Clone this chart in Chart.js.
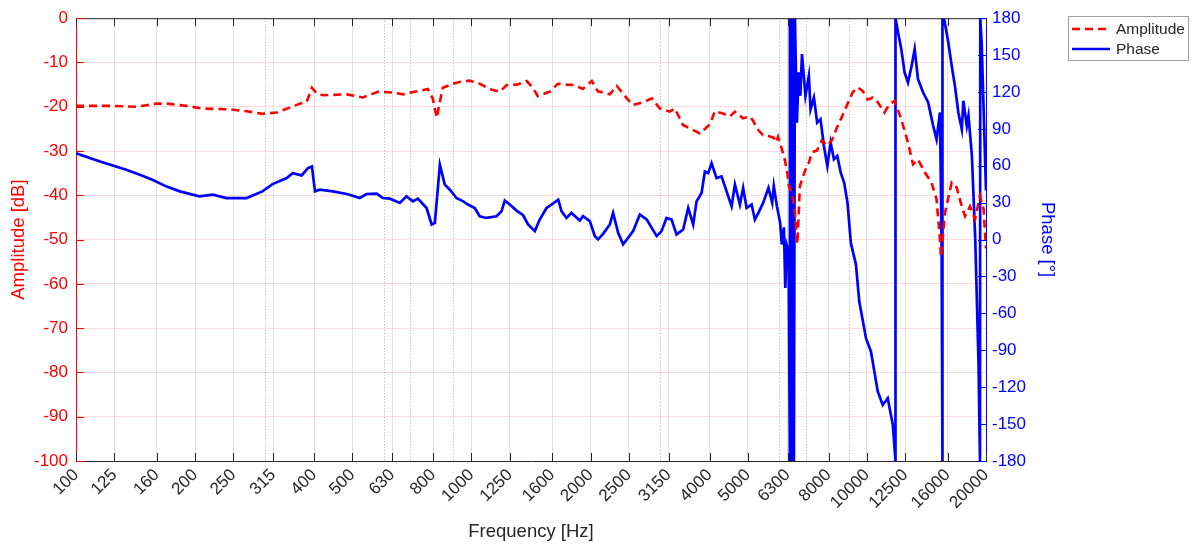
<!DOCTYPE html>
<html lang="en">
<head>
<meta charset="UTF-8">
<title>Amplitude and Phase</title>
<script src="https://cdn.jsdelivr.net/npm/chart.js@4.4.0/dist/chart.umd.min.js"></script>
<style>
  html, body { margin: 0; padding: 0; background: #fff; }
  .wrap { position: relative; width: 1194px; height: 549px; }
</style>
</head>
<body>
<div class="wrap"><canvas id="chart"></canvas></div>
<script>
// x axis tick labels (1/3 octave) and the dotted minor grid lines between them
const freqTicks = [100, 125, 160, 200, 250, 315, 400, 500, 630, 800, 1000, 1250, 1600, 2000,
  2500, 3150, 4000, 5000, 6300, 8000, 10000, 12500, 16000, 20000];
const minorGrid = [300, 600, 700, 900, 3000, 6000, 7000, 9000];

// Amplitude curve [dB]
const ampFreq = [100, 124, 142, 160, 170, 190, 209, 245, 270, 296, 322, 347, 368, 383, 395, 406, 421,
  484, 531, 580, 633, 671, 728, 776, 798, 817, 832, 846, 897, 934, 990, 1049, 1112, 1179, 1228,
  1302, 1380, 1429, 1471, 1578, 1653, 1742, 1825, 1912, 2015, 2087, 2238, 2331, 2471, 2559, 2712,
  2859, 2994, 3174, 3267, 3424, 3567, 3780, 4007, 4126, 4322, 4502, 4636, 4857, 5058, 5150, 5269,
  5457, 5684, 5817, 5893, 5960, 6023, 6166, 6274, 6348, 6461, 6575, 6670, 6767, 6989, 7134, 7259,
  7472, 7694, 7922, 8155, 8396, 8670, 8928, 9196, 9467, 9747, 10041, 10337, 10649, 11072, 11400,
  11745, 12212, 12698, 13074, 13460, 14001, 14560, 14998, 15296, 15387, 15750, 16378, 16861,
  17370, 17696, 18224, 18760, 19312, 19721, 20000];
const ampDb = [-19.8, -19.8, -20.0, -19.3, -19.3, -19.8, -20.4, -20.6, -21.0, -21.6, -21.3, -20.2,
  -19.3, -18.9, -15.7, -17.0, -17.4, -17.2, -17.9, -16.6, -16.8, -17.2, -16.5, -16.0, -18.1, -22.5,
  -18.9, -15.7, -14.8, -14.4, -14.1, -14.8, -16.0, -16.6, -15.1, -15.0, -14.2, -15.7, -17.6, -16.6,
  -14.8, -15.0, -15.1, -16.0, -14.2, -16.5, -17.2, -15.3, -18.1, -19.6, -19.0, -18.1, -20.4, -21.1,
  -20.4, -24.1, -24.9, -26.0, -24.0, -21.0, -21.5, -22.2, -21.1, -22.6, -22.2, -23.1, -24.9, -26.4,
  -26.7, -27.0, -28.0, -26.8, -28.1, -31.1, -34.2, -37.9, -39.3, -44.0, -51.0, -37.9, -34.2, -32.6,
  -30.3, -29.9, -27.6, -28.8, -27.6, -24.7, -22.0, -19.4, -16.8, -15.6, -16.4, -18.4, -17.9, -19.0,
  -21.3, -19.4, -18.7, -22.8, -28.1, -33.0, -31.9, -34.8, -37.1, -40.9, -50.0, -54.0, -44.0, -37.1,
  -38.2, -42.5, -44.7, -42.5, -45.4, -40.2, -43.1, -52.0];

// Phase curve [deg], wrapped to +-180
const phaseFreq = [100, 115, 134, 145, 156, 169, 183, 205, 222, 240, 270, 296, 314, 341, 353, 372,
  386, 395, 402, 413, 446, 484, 522, 543, 576, 597, 622, 659, 685, 711, 732, 770, 793, 808, 832,
  856, 882, 916, 953, 980, 1019, 1049, 1091, 1157, 1191, 1214, 1250, 1300, 1351, 1390, 1446, 1488,
  1548, 1593, 1657, 1690, 1739, 1790, 1879, 1915, 1992, 2051, 2090, 2152, 2238, 2281, 2349, 2418,
  2490, 2563, 2665, 2774, 2856, 2940, 3024, 3113, 3206, 3300, 3430, 3532, 3636, 3708, 3818, 3892,
  3968, 4047, 4166, 4289, 4416, 4547, 4636, 4773, 4864, 4962, 5109, 5208, 5316, 5466, 5635, 5760,
  5814, 5921, 6033, 6092, 6166, 6216, 6274, 6337, 6385, 6385, 6441, 6479, 6536, 6575, 6651, 6720,
  6785, 6851, 6989, 7130, 7201, 7343, 7484, 7630, 7784, 7940, 8094, 8250, 8415, 8585, 8758, 8928,
  9106, 9380, 9561, 9944, 10236, 10649, 10963, 11287, 11627, 11808, 11808, 11980, 12212, 12449,
  12698, 12947, 13203, 13460, 13868, 14284, 14705, 14998, 15296, 15444, 15521, 15521, 15703, 16056,
  16378, 16691, 17025, 17370, 17533, 17884, 18063, 18424, 18788, 18930, 19152, 19312, 19346, 19500,
  19710, 20000];
const phaseDeg = [70.2, 63.5, 56.8, 52.7, 48.7, 43.3, 39.2, 35.2, 36.6, 33.8, 33.8, 39.2, 45.1, 50.0,
  54.0, 52.2, 58.1, 59.5, 39.2, 40.6, 39.2, 37.1, 33.8, 37.1, 37.4, 33.8, 33.3, 29.8, 35.2, 31.1,
  33.3, 25.7, 12.3, 13.6, 60.8, 44.7, 40.6, 33.8, 31.1, 28.5, 25.7, 19.0, 17.6, 19.0, 23.0, 31.7,
  28.5, 23.6, 19.8, 12.3, 6.9, 16.3, 25.7, 28.5, 32.5, 23.0, 17.6, 21.7, 15.5, 19.0, 15.0, 2.8, 0.2,
  4.7, 12.3, 21.7, 5.5, -3.9, 1.5, 6.9, 20.4, 16.3, 9.5, 2.8, 6.9, 17.6, 16.3, 4.2, 8.2, 25.7, 12.3,
  31.1, 37.9, 55.4, 54.0, 62.1, 50.0, 51.4, 39.2, 27.1, 44.7, 28.5, 41.9, 25.7, 28.5, 16.3, 21.8,
  30.0, 42.1, 30.0, 43.5, 27.2, 13.6, -4.0, 10.0, -39.3, -5.0, -10.0, -180, 180, -180, 180, -180,
  180, 95.1, 136.0, 116.9, 150.9, 116.9, 133.2, 106.0, 115.5, 95.1, 97.9, 76.1, 59.8, 78.9, 65.3,
  68.0, 54.4, 46.2, 30.0, -2.8, -20.3, -50.2, -80.1, -91.0, -123.4, -134.5, -129.0, -150.8, -180,
  180, 168.7, 154.9, 135.9, 127.7, 140.0, 154.9, 130.5, 119.6, 111.5, 92.5, 81.5, 103.3, -2.8, -180,
  180, 178, 160.4, 141.3, 125.0, 103.3, 89.7, 112.9, 92.5, 100.7, 68.0, 0.0, -39.3, -101.5, -180,
  180, 160, 110, 40];

const RED = '#ff0000';
const BLUE = '#0000ff';
const DARK = '#262626';

Chart.defaults.font.family = '"Liberation Sans", Arial, Helvetica, sans-serif';

function pairs(xs, ys) {
  return xs.map((f, i) => ({ x: f, y: ys[i] }));
}

// minor dotted grid, inward tick marks, top border and the boxed legend
const framePlugin = {
  id: 'frame',
  beforeDatasetsDraw(chart) {
    const { ctx, chartArea: a } = chart;
    const x = chart.scales.x;
    ctx.save();
    ctx.strokeStyle = 'rgba(0,0,0,0.3)';
    ctx.lineWidth = 1;
    ctx.setLineDash([1, 2]);
    minorGrid.forEach(v => {
      const px = Math.round(x.getPixelForValue(v)) + 0.5;
      ctx.beginPath();
      ctx.moveTo(px, a.top);
      ctx.lineTo(px, a.bottom);
      ctx.stroke();
    });
    ctx.restore();
  },
  afterDatasetsDraw(chart) {
    const { ctx, chartArea: a } = chart;
    const { x, y, y2 } = chart.scales;
    const len = 8;
    ctx.save();
    ctx.lineWidth = 1;
    ctx.strokeStyle = DARK;
    ctx.beginPath();
    ctx.moveTo(a.left, a.top + 0.5);
    ctx.lineTo(a.right, a.top + 0.5);
    freqTicks.forEach(v => {
      const px = Math.round(x.getPixelForValue(v)) + 0.5;
      ctx.moveTo(px, a.bottom);
      ctx.lineTo(px, a.bottom - len);
      ctx.moveTo(px, a.top);
      ctx.lineTo(px, a.top + len);
    });
    ctx.stroke();
    ctx.strokeStyle = RED;
    ctx.beginPath();
    y.ticks.forEach(t => {
      const py = Math.round(y.getPixelForValue(t.value)) + 0.5;
      ctx.moveTo(a.left, py);
      ctx.lineTo(a.left + len, py);
    });
    ctx.stroke();
    ctx.strokeStyle = BLUE;
    ctx.beginPath();
    y2.ticks.forEach(t => {
      const py = Math.round(y2.getPixelForValue(t.value)) + 0.5;
      ctx.moveTo(a.right, py);
      ctx.lineTo(a.right - len, py);
    });
    ctx.stroke();
    ctx.restore();
  },
  afterDraw(chart) {
    const ctx = chart.ctx;
    const bx = 1068, by = 16, bw = 120, bh = 44;
    ctx.save();
    ctx.fillStyle = '#fff';
    ctx.fillRect(bx, by, bw, bh);
    ctx.strokeStyle = '#a0a0a0';
    ctx.lineWidth = 1;
    ctx.strokeRect(bx + 0.5, by + 0.5, bw, bh);
    const ds = chart.data.datasets;
    ctx.font = '15.5px "Liberation Sans", Arial, sans-serif';
    ctx.textBaseline = 'middle';
    ds.forEach((d, i) => {
      const ly = by + 13 + i * 20;
      ctx.strokeStyle = d.borderColor;
      ctx.lineWidth = d.borderWidth;
      ctx.setLineDash(d.borderDash || []);
      ctx.beginPath();
      ctx.moveTo(bx + 4, ly);
      ctx.lineTo(bx + 42, ly);
      ctx.stroke();
      ctx.setLineDash([]);
      ctx.fillStyle = DARK;
      ctx.fillText(d.label, bx + 48, ly + 1);
    });
    ctx.restore();
  }
};

new Chart(document.getElementById('chart'), {
  type: 'line',
  data: {
    datasets: [
      {
        label: 'Amplitude',
        data: pairs(ampFreq, ampDb),
        yAxisID: 'y',
        borderColor: RED,
        borderWidth: 2.6,
        borderDash: [8, 5],
        pointRadius: 0,
        tension: 0,
        fill: false
      },
      {
        label: 'Phase',
        data: pairs(phaseFreq, phaseDeg),
        yAxisID: 'y2',
        borderColor: BLUE,
        borderWidth: 2.7,
        pointRadius: 0,
        tension: 0,
        fill: false
      }
    ]
  },
  options: {
    responsive: true,
    maintainAspectRatio: false,
    animation: false,
    devicePixelRatio: 1,
    layout: { padding: { left: 0, right: 136, top: 16, bottom: 0 } },
    plugins: {
      legend: { display: false },
      tooltip: { enabled: false }
    },
    scales: {
      x: {
        type: 'logarithmic',
        min: 100,
        max: 20000,
        afterBuildTicks: s => { s.ticks = freqTicks.map(v => ({ value: v })); },
        afterFit: s => { s.height = 88; },
        ticks: {
          autoSkip: false,
          minRotation: 45,
          maxRotation: 45,
          color: DARK,
          font: { size: 17 },
          padding: 4,
          callback: v => String(v)
        },
        grid: { color: 'rgba(0,0,0,0.11)', drawTicks: false },
        border: { color: DARK, width: 1 },
        title: {
          display: true,
          text: 'Frequency [Hz]',
          color: DARK,
          font: { size: 18.5 },
          padding: { top: 0, bottom: 6 }
        }
      },
      y: {
        position: 'left',
        min: -100,
        max: 0,
        afterFit: s => { s.width = 76; },
        ticks: { stepSize: 10, color: RED, font: { size: 17 }, padding: 8 },
        grid: { color: 'rgba(255,0,0,0.14)', drawTicks: false },
        border: { color: RED, width: 1 },
        title: {
          display: true,
          text: 'Amplitude [dB]',
          color: RED,
          font: { size: 18.5 },
          padding: { top: 8, bottom: 0 }
        }
      },
      y2: {
        position: 'right',
        min: -180,
        max: 180,
        afterFit: s => { s.width = 72; },
        ticks: { stepSize: 30, color: BLUE, font: { size: 17 }, padding: 6 },
        grid: { drawOnChartArea: false, drawTicks: false },
        border: { color: BLUE, width: 1 },
        title: {
          display: true,
          text: 'Phase [°]',
          color: BLUE,
          font: { size: 18.5 },
          padding: { top: 0, bottom: 0 }
        }
      }
    }
  },
  plugins: [framePlugin]
});
</script>
</body>
</html>
